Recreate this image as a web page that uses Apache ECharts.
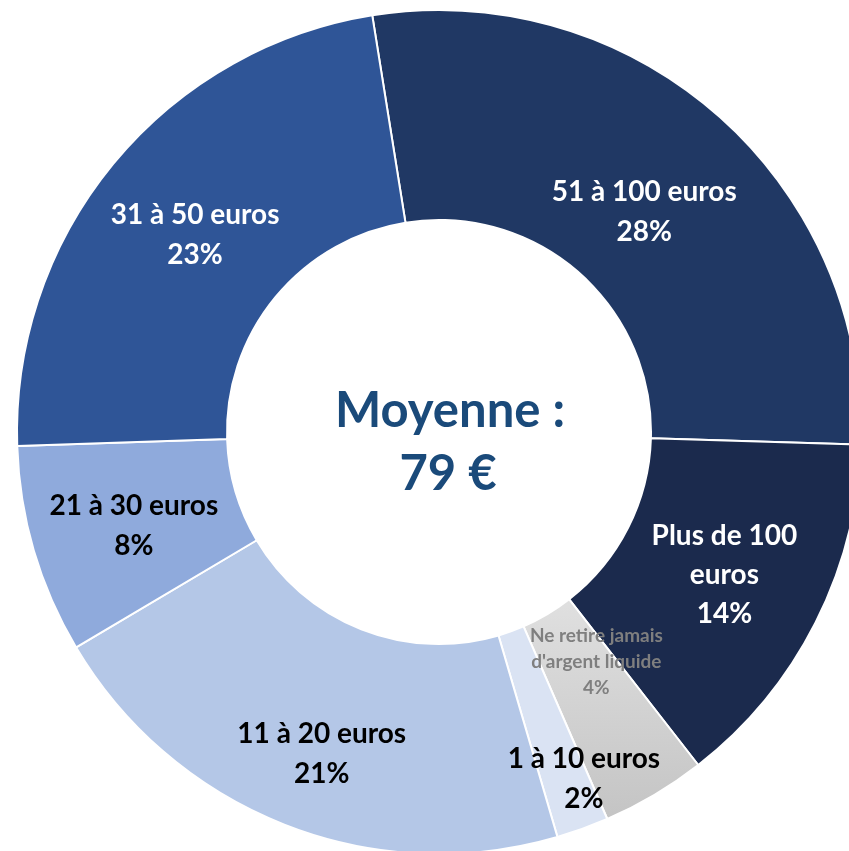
<!DOCTYPE html>
<html><head><meta charset="utf-8">
<script src="https://cdn.jsdelivr.net/npm/echarts@6/dist/echarts.min.js"></script>
<style>html,body{margin:0;padding:0;background:#fff}#c{width:849px;height:851px}</style>
</head><body><div id="c"></div>
<script>
const categories = ["51 à 100 euros", "Plus de 100 euros", "Ne retire jamais d'argent liquide", "1 à 10 euros", "11 à 20 euros", "21 à 30 euros", "31 à 50 euros"];
const labelTexts = ["51 à 100 euros", "Plus de 100\neuros", "Ne retire jamais\nd'argent liquide", "1 à 10 euros", "11 à 20 euros", "21 à 30 euros", "31 à 50 euros"];
const values = [28, 14, 4, 2, 21, 8, 23];
const centerTitle = "Moyenne :";
const centerValue = "79 €";

const colors = ["#203864", "#1b2a4d",
  {type:'linear', x:0, y:0, x2:0, y2:1, colorStops:[{offset:0,color:'#e0e0e0'},{offset:1,color:'#c4c4c4'}]},
  "#dae3f3", "#b4c7e7", "#8faadc", "#2f5597"];
const textColors = ["#fff", "#fff", "#7f7f7f", "#000", "#000", "#000", "#fff"];
const fontSizes = [28, 28, 19, 28, 28, 28, 28];
const lineHeights = [40, 39, 26, 40, 40, 40, 40];
const offsets = [[-6, 20], [0, -2], [-6, -45], [36, 46], [0, 24], [2, 4], [3, 7]];

const FONT = "Lato, 'Open Sans', sans-serif";
const data = categories.map((c, i) => ({
  name: c,
  value: values[i],
  itemStyle: { color: colors[i] },
  label: {
    formatter: labelTexts[i] + "\n" + values[i] + "%",
    color: textColors[i],
    fontSize: fontSizes[i],
    lineHeight: lineHeights[i],
    offset: offsets[i]
  }
}));

const shadow = { shadowColor: 'rgba(0,0,0,0.35)', shadowBlur: 8, shadowOffsetX: 2, shadowOffsetY: 3 };
const chart = echarts.init(document.getElementById('c'), null, {renderer: 'canvas'});
chart.setOption({
  animation: false,
  series: [{
    type: 'pie',
    center: [439, 432],
    radius: [212, 422],
    startAngle: 99.1,
    clockwise: true,
    avoidLabelOverlap: false,
    minShowLabelAngle: 0,
    labelLayout: { hideOverlap: false },
    itemStyle: { borderColor: '#fff', borderWidth: 2 },
    label: {
      show: true, position: 'inside', fontFamily: FONT, fontWeight: 'bold', align: 'center'
    },
    labelLine: { show: false },
    emphasis: { disabled: true },
    data: data
  }],
  graphic: [{
    type: 'text', x: 450, y: 411,
    style: Object.assign({ text: centerTitle, font: "bold 49px " + FONT, fill: '#1a4a7a',
      align: 'center', verticalAlign: 'middle' }, shadow)
  }, {
    type: 'text', x: 448, y: 474,
    style: Object.assign({ text: centerValue, font: "bold 49px " + FONT, fill: '#1a4a7a',
      align: 'center', verticalAlign: 'middle' }, shadow)
  }]
});
</script></body></html>
